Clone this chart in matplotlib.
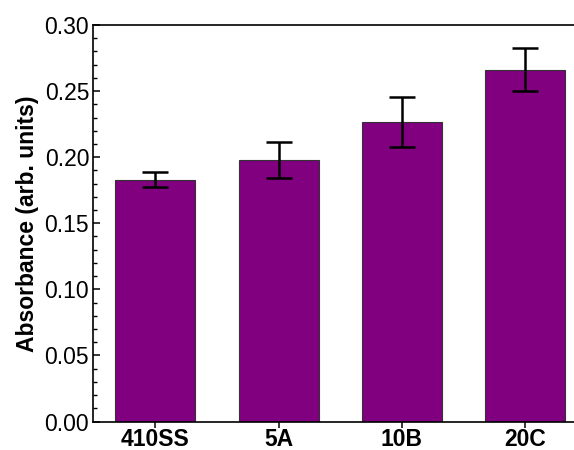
import matplotlib
matplotlib.use('Agg')
import matplotlib.pyplot as plt
from matplotlib.ticker import MultipleLocator, FormatStrFormatter
import numpy as np

samples = ['410SS', '5A', '10B', '20C']
absorbance = [0.183, 0.198, 0.2265, 0.2662]
errors = [0.0057, 0.0135, 0.019, 0.0164]

plt.rcParams['font.family'] = ['Liberation Sans', 'DejaVu Sans']
plt.rcParams['font.size'] = 16.5

fig = plt.figure(figsize=(5.74, 4.5), dpi=100)
ax = fig.add_axes([0.1626, 0.0633, 0.8374, 0.8811])

x = np.arange(len(samples))
ax.bar(x, absorbance, width=0.65, color='#800080', edgecolor='#333333', linewidth=0.8)
ax.errorbar(x, absorbance, yerr=errors, fmt='none', ecolor='black',
            elinewidth=1.8, capsize=9.3, capthick=1.8)

ax.set_xlim(-0.505, 3.40)
ax.set_ylim(0, 0.30)
ax.yaxis.set_major_locator(MultipleLocator(0.05))
ax.yaxis.set_minor_locator(MultipleLocator(0.01))
ax.yaxis.set_major_formatter(FormatStrFormatter('%.2f'))
ax.set_xticks(x)
ax.set_xticklabels(samples, fontweight='bold', fontsize=16.5)

ax.tick_params(axis='y', which='major', direction='in', length=5, width=1.1, pad=3)
ax.tick_params(axis='y', which='minor', direction='in', length=3, width=1.0)
ax.tick_params(axis='x', which='major', direction='out', length=4, width=1.1, pad=1)
ax.tick_params(axis='x', which='minor', bottom=False)

for s in ['left', 'bottom', 'top']:
    ax.spines[s].set_linewidth(1.2)
ax.spines['right'].set_visible(False)

ax.set_ylabel('Absorbance (arb. units)', fontweight='bold', fontsize=16.5, labelpad=4)

fig.savefig('out.png', dpi=100)
